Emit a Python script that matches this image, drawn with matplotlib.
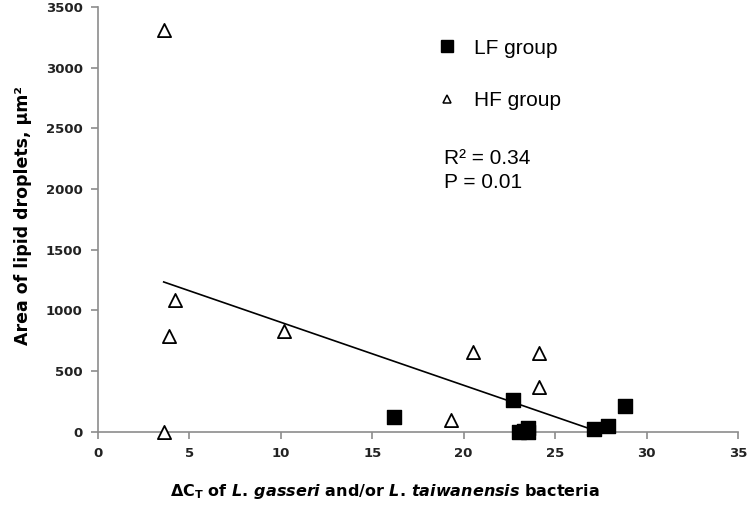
import matplotlib
matplotlib.use("Agg")
import matplotlib.pyplot as plt
from matplotlib.lines import Line2D

plt.rcParams['mathtext.fontset'] = 'custom'
plt.rcParams['mathtext.rm'] = 'DejaVu Sans:bold'
plt.rcParams['mathtext.it'] = 'DejaVu Sans:italic:bold'
plt.rcParams['mathtext.bf'] = 'DejaVu Sans:bold'

# Data
lf_x = [16.2, 22.7, 23.0, 23.3, 23.5, 23.5, 27.1, 27.9, 28.8]
lf_y = [125, 260, 0, 10, 30, 0, 20, 45, 210]
hf_x = [3.6, 4.2, 3.9, 3.6, 10.2, 19.3, 20.5, 24.1, 24.1]
hf_y = [3310, 1090, 790, 0, 830, 100, 660, 650, 370]
trend_x = [3.6, 26.9]
trend_y = [1235, 25]

x_ticks = [0, 5, 10, 15, 20, 25, 30, 35]
y_ticks = [0, 500, 1000, 1500, 2000, 2500, 3000, 3500]

fig = plt.figure(figsize=(7.47, 5.11), dpi=100)
ax = fig.add_axes([0.131, 0.155, 0.857, 0.831])

ax.plot(trend_x, trend_y, color='black', lw=1.2, zorder=2)
ax.scatter(hf_x, hf_y, marker='^', s=90, facecolors='white', edgecolors='black',
           linewidths=1.3, zorder=3, clip_on=False)
ax.scatter(lf_x, lf_y, marker='s', s=95, color='black', zorder=4, clip_on=False)

ax.set_xlim(0, 35)
ax.set_ylim(0, 3500)
ax.set_xticks(x_ticks)
ax.set_yticks(y_ticks)
ax.set_xticklabels([str(t) for t in x_ticks])
ax.set_yticklabels([str(t) for t in y_ticks])
for lbl in ax.get_xticklabels() + ax.get_yticklabels():
    lbl.set_fontweight('bold')
    lbl.set_fontsize(9.5)
    lbl.set_color('#222222')

for s in ['top', 'right']:
    ax.spines[s].set_visible(False)
for s in ['left', 'bottom']:
    ax.spines[s].set_color('#8c8c8c')
    ax.spines[s].set_linewidth(1.2)
ax.tick_params(direction='out', length=5, color='#8c8c8c', width=1.2, pad=6)

ax.set_ylabel('Area of lipid droplets, μm²', fontsize=12.5, fontweight='bold', labelpad=10)
ax.yaxis.label.set_y(0.51)
ax.set_xlabel(r'$\Delta \mathrm{C_T}$ of $\mathit{L.\,gasseri}$ and/or $\mathit{L.\,taiwanensis}$ bacteria',
              fontsize=11.5, fontweight='bold', labelpad=16)
ax.xaxis.label.set_x(0.448)

handles = [
    Line2D([], [], marker='s', color='black', linestyle='none', markersize=8),
    Line2D([], [], marker='^', markerfacecolor='white', markeredgecolor='black',
           linestyle='none', markersize=6, markeredgewidth=1.1),
]
leg = ax.legend(handles, ['LF group', 'HF group'], loc='upper left',
                bbox_to_anchor=(0.5, 0.97), frameon=False, handlelength=1.0,
                handletextpad=0.8, labelspacing=1.6,
                prop={'family': 'Liberation Sans', 'size': 15})

ax.text(0.541, 0.565, 'R² = 0.34\nP = 0.01', transform=ax.transAxes,
        family='Liberation Sans', fontsize=15, va='bottom', ha='left', linespacing=1.3)

fig.savefig('out.png', dpi=100)
